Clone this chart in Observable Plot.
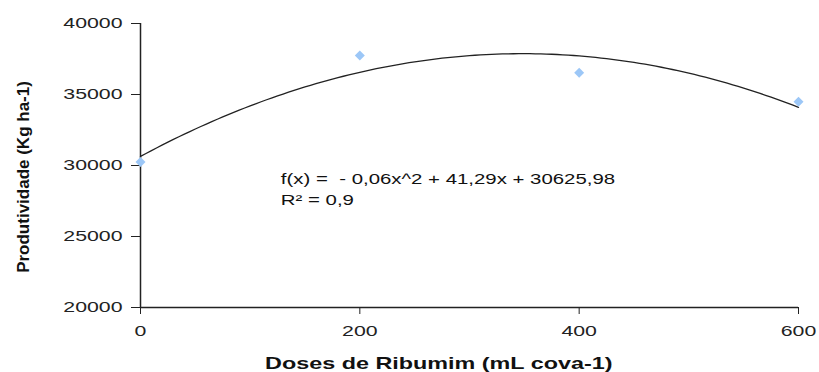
<!DOCTYPE html>
<html><head><meta charset="utf-8">
<script src="https://cdn.jsdelivr.net/npm/d3@7"></script>
<script src="https://cdn.jsdelivr.net/npm/@observablehq/plot@0.6"></script>
<style>body{margin:0;background:#fff;font-family:"Liberation Sans",Arial,sans-serif}</style>
</head><body><div id="chart"></div>
<script>
const doses = [0, 200, 400, 600];
const produtividade = [30250, 37740, 36540, 34490];
const xTicks = [0, 200, 400, 600];
const yTicks = [20000, 25000, 30000, 35000, 40000];
const equationText = "f(x) =  - 0,06x^2 + 41,29x + 30625,98";
const r2Text = "R² = 0,9";
const xTitle = "Doses de Ribumim (mL cova-1)";
const yTitle = "Produtividade (Kg ha-1)";

const points = doses.map((d, i) => ({x: d, y: produtividade[i]}));

// least-squares quadratic fit of the data (trend line)
function quadFit(xs, ys) {
  const n = xs.length;
  let S = Array(5).fill(0), T = Array(3).fill(0);
  for (let i = 0; i < n; i++) {
    for (let k = 0; k < 5; k++) S[k] += xs[i] ** k;
    for (let k = 0; k < 3; k++) T[k] += ys[i] * xs[i] ** k;
  }
  const A = [[S[0], S[1], S[2], T[0]], [S[1], S[2], S[3], T[1]], [S[2], S[3], S[4], T[2]]];
  for (let c = 0; c < 3; c++) {
    for (let r = c + 1; r < 3; r++) {
      const f = A[r][c] / A[c][c];
      for (let k = c; k < 4; k++) A[r][k] -= f * A[c][k];
    }
  }
  const b = [0, 0, 0];
  for (let r = 2; r >= 0; r--) {
    let s = A[r][3];
    for (let k = r + 1; k < 3; k++) s -= A[r][k] * b[k];
    b[r] = s / A[r][r];
  }
  return x => b[0] + b[1] * x + b[2] * x * x;
}
const fit = quadFit(doses, produtividade);
const trend = d3.range(0, 601, 5).map(x => ({x, y: fit(x)}));

const chart = Plot.plot({
  width: 819, height: 372,
  marginLeft: 140, marginRight: 21, marginTop: 23, marginBottom: 65,
  style: {fontFamily: "'Liberation Sans', Arial, sans-serif", fontSize: "15px", color: "#222"},
  x: {domain: [0, 600]},
  y: {domain: [20000, 40000]},
  marks: [
    Plot.axisX({ticks: xTicks, tickSize: 7, tickPadding: 11, label: null, stroke: "#222", fill: "#222"}),
    Plot.axisY({ticks: yTicks, tickSize: 9, tickPadding: 9, label: null, tickFormat: d => String(d), stroke: "#222", fill: "#222"}),
    Plot.ruleX([0], {stroke: "#222", strokeWidth: 1.5}),
    Plot.ruleY([20000], {stroke: "#222", strokeWidth: 1.5}),
    Plot.line(trend, {x: "x", y: "y", stroke: "#222", strokeWidth: 1.3}),
    Plot.dot(points, {x: "x", y: "y", symbol: "diamond2", r: 4.5, fill: "#9cc7f7", stroke: "none"}),
    Plot.text([equationText], {x: 128, y: 29050, text: d => d, textAnchor: "start", fontSize: 15, fill: "#111"}),
    Plot.text([r2Text], {x: 128, y: 27560, text: d => d, textAnchor: "start", fontSize: 15, fill: "#111"}),
    Plot.text([xTitle], {x: 272, y: 16040, text: d => d, fontWeight: "bold", fontSize: 16, fill: "#111"}),
    Plot.text([yTitle], {x: -107, y: 29190, rotate: -90, text: d => d, fontWeight: "bold", fontSize: 17, fill: "#111"})
  ]
});
document.getElementById("chart").append(chart);

// the reference's lettering is stretched horizontally; widen each label around its own anchor
chart.querySelectorAll("text").forEach(t => {
  const s = t.textContent;
  if (s === yTitle) return;
  let k = 1.42;
  if (s === xTitle) k = 1.46;
  else if (s === equationText || s === r2Text) k = 1.36;
  const x = parseFloat(t.getAttribute("x")) || 0;
  const base = t.getAttribute("transform") || "";
  t.setAttribute("transform", `${base} translate(${x},0) scale(${k},1) translate(${-x},0)`.trim());
});
</script></body></html>
